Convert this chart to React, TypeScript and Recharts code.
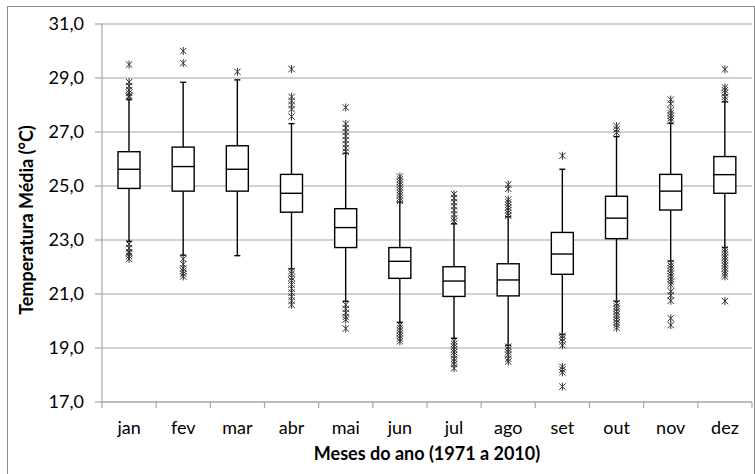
import React from 'react';
import { ComposedChart, Bar, Scatter, XAxis, YAxis, CartesianGrid } from 'recharts';

const months = ['jan', 'fev', 'mar', 'abr', 'mai', 'jun', 'jul', 'ago', 'set', 'out', 'nov', 'dez'];
const whiskerLow = [22.95, 22.44, 22.42, 21.93, 20.73, 19.95, 19.36, 19.1, 19.5, 20.73, 22.22, 22.72];
const q1 = [24.91, 24.81, 24.81, 24.03, 22.72, 21.58, 20.91, 20.93, 21.73, 23.05, 24.11, 24.73];
const median = [25.62, 25.72, 25.62, 24.73, 23.46, 22.21, 21.48, 21.52, 22.48, 23.81, 24.81, 25.42];
const q3 = [26.27, 26.44, 26.49, 25.43, 24.16, 22.72, 22.01, 22.12, 23.28, 24.62, 25.43, 26.09];
const whiskerHigh = [28.2, 28.84, 28.93, 27.31, 26.21, 24.4, 23.6, 23.86, 25.62, 26.83, 27.32, 28.12];
const outliers: number[][] = [
  [29.5, 28.85, 28.7, 28.55, 28.45, 28.35, 28.3, 22.85, 22.7, 22.55, 22.5, 22.4, 22.3],
  [30.0, 29.55, 22.3, 22.1, 21.95, 21.85, 21.75, 21.65],
  [29.23],
  [29.33, 28.3, 28.15, 28.0, 27.85, 27.57, 21.85, 21.75, 21.6, 21.5, 21.35, 21.2, 21.05, 20.9, 20.75, 20.6],
  [27.91, 27.3, 27.15, 27.0, 26.85, 26.7, 26.55, 26.4, 26.27, 20.6, 20.45, 20.3, 20.15, 20.05, 19.72],
  [25.35, 25.25, 25.15, 25.05, 24.95, 24.85, 24.75, 24.65, 24.55, 24.45, 19.85, 19.75, 19.65, 19.55, 19.45, 19.35, 19.25],
  [24.7, 24.55, 24.4, 24.25, 24.1, 23.95, 23.8, 23.7, 19.25, 19.15, 19.05, 18.95, 18.85, 18.75, 18.6, 18.5, 18.4, 18.25],
  [25.05, 24.9, 24.5, 24.4, 24.3, 24.2, 24.1, 24.0, 23.9, 19.05, 18.95, 18.85, 18.75, 18.6, 18.5],
  [26.12, 19.45, 19.35, 19.25, 19.1, 18.3, 18.2, 18.1, 17.57],
  [27.22, 27.1, 26.98, 20.65, 20.55, 20.45, 20.35, 20.25, 20.15, 20.05, 19.95, 19.85, 19.75],
  [28.2, 28.05, 27.8, 27.7, 27.6, 27.5, 27.4, 22.15, 22.05, 21.95, 21.85, 21.75, 21.65, 21.55, 21.45, 21.35, 21.1, 20.95, 20.75, 20.1, 19.85],
  [29.32, 28.65, 28.55, 28.45, 28.3, 28.2, 22.65, 22.55, 22.45, 22.35, 22.25, 22.15, 22.05, 21.95, 21.85, 21.75, 21.65, 20.74],
];
const yTicks = [17, 19, 21, 23, 25, 27, 29, 31];

const data = months.map((m, i) => ({
  month: m,
  range: [whiskerLow[i], whiskerHigh[i]],
  lo: whiskerLow[i],
  hi: whiskerHigh[i],
  q1: q1[i],
  median: median[i],
  q3: q3[i],
}));

const outlierData = months.flatMap((m, i) => outliers[i].map((v) => ({ month: m, value: v })));

const GRID = '#a6a6a6';
const FONT = 'Lato, "Open Sans", sans-serif';

const BoxShape = (props: any) => {
  const { x, y, width, height, payload } = props;
  if (x == null || y == null || !payload) return null;
  const top = Math.min(y, y + height);
  const h = Math.abs(height);
  const k = h / (payload.hi - payload.lo);
  const py = (v: number) => top + (payload.hi - v) * k;
  const cx = x + width / 2;
  const sw = 1.4;
  return (
    <g>
      <line x1={cx} x2={cx} y1={py(payload.hi)} y2={py(payload.q3)} stroke="#000" strokeWidth={sw} />
      <line x1={cx} x2={cx} y1={py(payload.q1)} y2={py(payload.lo)} stroke="#000" strokeWidth={sw} />
      <line x1={cx - 3} x2={cx + 3} y1={py(payload.hi)} y2={py(payload.hi)} stroke="#000" strokeWidth={sw} />
      <line x1={cx - 3} x2={cx + 3} y1={py(payload.lo)} y2={py(payload.lo)} stroke="#000" strokeWidth={sw} />
      <rect x={x} y={py(payload.q3)} width={width} height={py(payload.q1) - py(payload.q3)} fill="#fff" stroke="#000" strokeWidth={sw} />
      <line x1={x} x2={x + width} y1={py(payload.median)} y2={py(payload.median)} stroke="#000" strokeWidth={sw} />
    </g>
  );
};

const StarMarker = (props: any) => {
  const { cx, cy } = props;
  if (cx == null || cy == null) return null;
  const s = 3.2;
  return (
    <g stroke="#333" strokeWidth={1} fill="none">
      <line x1={cx - s} y1={cy - s} x2={cx + s} y2={cy + s} />
      <line x1={cx - s} y1={cy + s} x2={cx + s} y2={cy - s} />
      <line x1={cx} y1={cy - s - 0.8} x2={cx} y2={cy + s + 0.8} />
    </g>
  );
};

const MonthTick = (props: any) => {
  const { x, y, payload, index, visibleTicksCount } = props;
  const half = payload && payload.offset ? payload.offset : 0;
  const isLast = index === (visibleTicksCount ?? months.length) - 1;
  return (
    <g>
      <line x1={x - half} x2={x - half} y1={y} y2={y + 6} stroke={GRID} strokeWidth={1.2} />
      {isLast && <line x1={x + half} x2={x + half} y1={y} y2={y + 6} stroke={GRID} strokeWidth={1.2} />}
      <text x={x} y={y + 32} textAnchor="middle" fontSize={18} fontFamily={FONT} fill="#000">
        {payload.value}
      </text>
    </g>
  );
};

export default function App() {
  return (
    <div style={{ position: 'absolute', left: 0, top: 0, width: 755, height: 474, overflow: 'hidden', background: '#fff', fontFamily: FONT }}>
      <div style={{ position: 'absolute', left: 7, top: 6, width: 748, height: 480, border: '1px solid #8c8c8c', boxSizing: 'border-box' }} />
      <div style={{ position: 'absolute', left: 0, top: 0 }}>
        <ComposedChart width={755} height={474} data={data} margin={{ top: 24, right: 3, bottom: 42, left: 0 }}>
          <CartesianGrid vertical={false} stroke={GRID} strokeWidth={1.2} />
          <XAxis
            dataKey="month"
            type="category"
            allowDuplicatedCategory={false}
            height={30}
            interval={0}
            tickSize={0}
            tickMargin={0}
            tickLine={false}
            axisLine={{ stroke: GRID, strokeWidth: 1.2 }}
            tick={<MonthTick />}
          />
          <YAxis
            type="number"
            domain={[17, 31]}
            ticks={yTicks}
            interval={0}
            width={102}
            tickSize={7}
            tickMargin={11}
            axisLine={{ stroke: GRID, strokeWidth: 1.2 }}
            tickLine={{ stroke: GRID, strokeWidth: 1.2 }}
            tick={{ fontSize: 18, fontFamily: FONT, fill: '#000' }}
            tickFormatter={(v: number) => v.toFixed(1).replace('.', ',')}
            allowDataOverflow
          />
          <Bar dataKey="range" barSize={22} shape={<BoxShape />} isAnimationActive={false} />
          <Scatter data={outlierData} dataKey="value" shape={<StarMarker />} isAnimationActive={false} />
        </ComposedChart>
      </div>
      <div style={{ position: 'absolute', left: 26, top: 220, transform: 'translate(-50%, -50%) rotate(-90deg)', whiteSpace: 'nowrap', fontWeight: 700, fontSize: 18, lineHeight: '20px', color: '#000' }}>
        Temperatura Média (°C)
      </div>
      <div style={{ position: 'absolute', left: 427, top: 443, transform: 'translateX(-50%)', whiteSpace: 'nowrap', fontWeight: 700, fontSize: 18, lineHeight: '20px', color: '#000' }}>
        Meses do ano (1971 a 2010)
      </div>
    </div>
  );
}
